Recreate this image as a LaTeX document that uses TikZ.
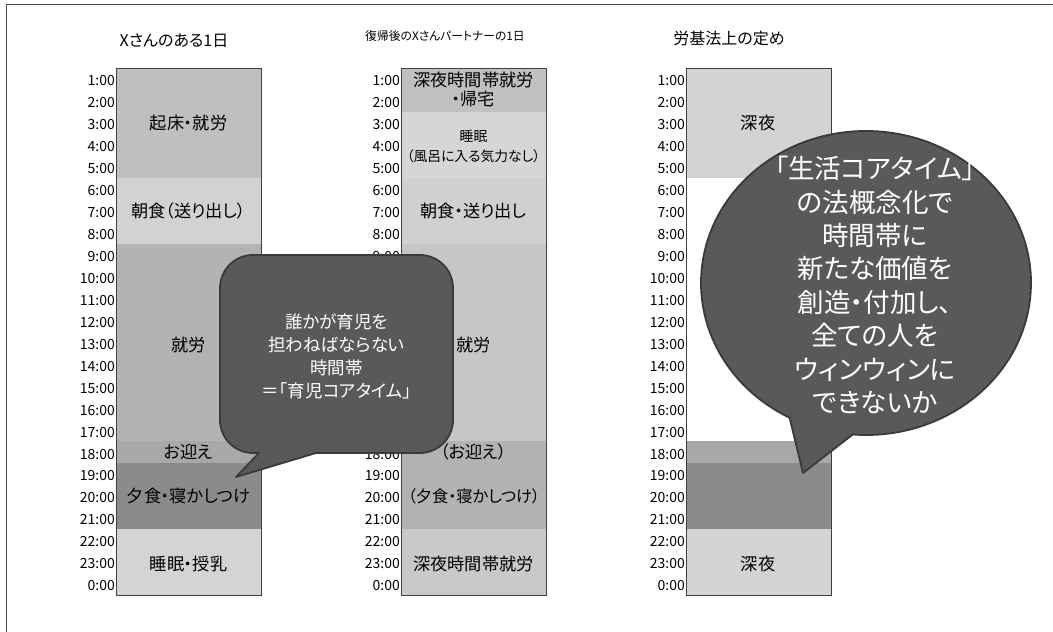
\documentclass[tikz,border=0pt]{standalone}
\usepackage{fontspec}
\setmainfont{Noto Sans CJK JP}[RawFeature={+palt}]
\definecolor{boxline}{HTML}{404040}
\definecolor{frameline}{HTML}{505050}
\definecolor{cWake}{HTML}{BFBFBF}
\definecolor{cBreak}{HTML}{D2D2D2}
\definecolor{cWork}{HTML}{B3B3B3}
\definecolor{cPick}{HTML}{A8A8A8}
\definecolor{cDinner}{HTML}{8B8B8B}
\definecolor{cSleep}{HTML}{D4D4D4}
\definecolor{dTop}{HTML}{C0C0C0}
\definecolor{dSleep}{HTML}{D6D6D6}
\definecolor{dBreak}{HTML}{D0D0D0}
\definecolor{dWork}{HTML}{C6C6C6}
\definecolor{dEve}{HTML}{B2B2B2}
\definecolor{dNight}{HTML}{C9C9C9}
\definecolor{eNight}{HTML}{D3D3D3}
\definecolor{bubFill}{HTML}{595959}
\definecolor{bubLine}{HTML}{3A3A3A}
\begin{document}
\begin{tikzpicture}[x=1pt,y=1pt,
  tl/.style={anchor=east,font=\fontsize{14}{14}\selectfont,inner sep=0pt},
  lab/.style={font=\fontsize{17.2}{19}\selectfont,align=center,inner sep=0pt},
  smalllab/.style={font=\fontsize{13.8}{20}\selectfont,align=center,inner sep=0pt},
  ttl/.style={font=\fontsize{16}{16}\selectfont,inner sep=0pt},
  ttlsmall/.style={font=\fontsize{11.8}{12}\selectfont,inner sep=0pt},
  colbox/.style={draw=boxline,line width=0.8pt},
  bubble/.style={fill=bubFill,draw=bubLine,line width=1.8pt,line join=round},
  bubtext/.style={text=white,align=center,inner sep=0pt}]
\useasboundingbox (0,0) rectangle (1053,632);
\fill[white] (0,0) rectangle (1053,632);
\draw[frameline,line width=0.8pt] (6,0) -- (6,628) -- (1053,628);
% titles
\node[ttl] (t1) at (174,591) {Xさんのある1日};
\node[ttlsmall] (t2) at (445,596) {復帰後のXさんパートナーの1日};
\node[ttl] (t3) at (729,594) {労基法上の定め};
\begin{scope}[yshift=564pt,y=-21.958pt]
  % column 1
  \fill[cWake] (116,0) rectangle (261,5);
  \fill[cBreak] (116,5) rectangle (261,8);
  \fill[cWork] (116,8) rectangle (261,17);
  \fill[cPick] (116,17) rectangle (261,18);
  \fill[cDinner] (116,18) rectangle (261,21);
  \fill[cSleep] (116,21) rectangle (261,24);
  \draw[colbox] (116,0) rectangle (261,24);
  \node[lab] (a1) at (188.5,2.5) {起床・就労};
  \node[lab] (a2) at (188.5,6.5) {朝食（送り出し）};
  \node[lab] (a3) at (188.5,12.6) {就労};
  \node[lab] (a4) at (188.5,17.5) {お迎え};
  \node[lab] (a5) at (188.5,19.5) {夕食・寝かしつけ};
  \node[lab] (a6) at (188.5,22.6) {睡眠・授乳};
  % column 2
  \fill[dTop] (401,0) rectangle (546,2);
  \fill[dSleep] (401,2) rectangle (546,5);
  \fill[dBreak] (401,5) rectangle (546,8);
  \fill[dWork] (401,8) rectangle (546,17);
  \fill[dEve] (401,17) rectangle (546,21);
  \fill[dNight] (401,21) rectangle (546,24);
  \draw[colbox] (401,0) rectangle (546,24);
  \node[lab] (b1) at (473.5,1.0) {深夜時間帯就労\\・帰宅};
  \node[smalllab] (b2) at (473.5,3.55) {睡眠\\（風呂に入る気力なし）};
  \node[lab] (b3) at (473.5,6.5) {朝食・送り出し};
  \node[lab] (b4) at (473.5,12.6) {就労};
  \node[lab] (b5) at (473.5,17.5) {（お迎え）};
  \node[lab,font=\fontsize{16.2}{19}\selectfont] (b6) at (474,19.5) {（夕食・寝かしつけ）};
  \node[lab] (b7) at (473.5,22.6) {深夜時間帯就労};
  % column 3
  \fill[eNight] (686,0) rectangle (831,5);
  \fill[cPick] (686,17) rectangle (831,18);
  \fill[cDinner] (686,18) rectangle (831,21);
  \fill[eNight] (686,21) rectangle (831,24);
  \draw[colbox] (686,0) rectangle (831,24);
  \node[lab] (c1) at (758,2.5) {深夜};
  \node[lab] (c2) at (758,22.6) {深夜};
  % time labels
  \foreach \h in {1,...,24}{
    \pgfmathtruncatemacro\hh{mod(\h,24)}
    \node[tl] (ta\h) at (115,\h-0.42) {\hh:00};
    \node[tl] (tc\h) at (685,\h-0.42) {\hh:00};
  }
  \foreach \h in {1,...,9,18,19,...,24}{
    \pgfmathtruncatemacro\hh{mod(\h,24)}
    \node[tl] (tb\h) at (400,\h-0.42) {\hh:00};
  }
\end{scope}
% left callout (rounded rectangle with wedge)
\draw[bubble] (253,377) -- (420,377) arc[start angle=90,end angle=0,radius=33]
  -- (453,212) arc[start angle=0,end angle=-90,radius=33]
  -- (316,179) -- (236,155) -- (259,179) -- (253,179)
  arc[start angle=270,end angle=180,radius=33]
  -- (220,344) arc[start angle=180,end angle=90,radius=33] -- cycle;
\node[bubtext,font=\fontsize{17.5}{23}\selectfont] (n1) at (336.5,276)
  {誰かが育児を\\担わねばならない\\時間帯\\＝「育児コアタイム」};
% right callout (ellipse with wedge)
\draw[bubble] (866,349) ++(265.4:165 and 152)
  arc[start angle=265.4,end angle=602.4,x radius=165,y radius=152]
  -- (803,159) -- cycle;
\node[bubtext,font=\fontsize{26.5}{33.4}\selectfont] (n2) at (875,347)
  {「生活コアタイム」\\の法概念化で\\時間帯に\\新たな価値を\\創造・付加し、\\全ての人を\\ウィンウィンに\\できないか};
\end{tikzpicture}
\end{document}
